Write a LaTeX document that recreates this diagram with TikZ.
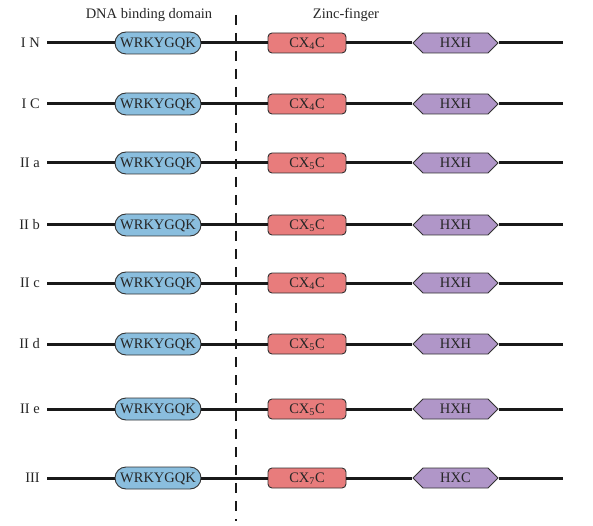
\documentclass[tikz,border=0pt]{standalone}
\usepackage{fontspec}
\setmainfont{Liberation Serif}
\usetikzlibrary{shapes.symbols}
\definecolor{wblue}{RGB}{138,190,222}
\definecolor{cpink}{RGB}{232,124,124}
\definecolor{hpurple}{RGB}{176,150,200}
\definecolor{edgegray}{RGB}{50,50,50}
\tikzset{
  txt/.style={font=\fontsize{14.5}{17}\selectfont, text=black!85},
  wrky/.style={txt, draw=edgegray, line width=0.9pt, fill=wblue, rounded corners=11pt,
    minimum width=86pt, minimum height=22pt, inner sep=0pt, text depth=0pt, text height=9.5pt},
  cxbox/.style={txt, draw=edgegray, line width=0.9pt, fill=cpink, rounded corners=4pt,
    minimum width=78pt, minimum height=20pt, inner sep=0pt, text depth=0pt, text height=9.5pt},
  hexbox/.style={txt, draw=edgegray, line width=0.9pt, fill=hpurple, signal, signal to=west and east,
    signal pointer angle=90, minimum width=85pt, minimum height=20pt, inner sep=0pt, text depth=0pt, text height=9.5pt},
  rowlabel/.style={txt, anchor=east, inner sep=0pt},
  bb/.style={line width=3pt, black!90},
  title/.style={txt},
}
\begin{document}
\begin{tikzpicture}[x=1pt,y=-1pt]
\useasboundingbox (0,0) rectangle (593,526);
\node[title] (t1) at (149,15) {DNA binding domain};
\node[title] (t2) at (346,15) {Zinc-finger};
\foreach \lab/\y/\n/\last [count=\i] in {I N/43/4/HXH, I C/104/4/HXH, II a/163/5/HXH, II b/225/5/HXH, II c/283/4/HXH, II d/344/5/HXH, II e/409/5/HXH, III/478/7/HXC}{
  \node[rowlabel] (l\i) at (40,\y) {\lab};
  \coordinate (s\i) at (47,\y);
  \coordinate (e\i) at (563,\y);
  \node[wrky] (w\i) at (158,\y) {WRKYGQK};
  \node[cxbox] (c\i) at (307,\y) {CX\textsubscript{\n}C};
  \node[hexbox] (h\i) at (455.5,\y) {\last};
  \draw[bb] (s\i) -- (w\i.west);
  \draw[bb] (w\i.east) -- (c\i.west);
  \draw[bb] (c\i.east) -- (h\i.west);
  \draw[bb] (h\i.east) -- (e\i);
}
\coordinate (dtop) at (236,15);
\coordinate (dbot) at (236,521);
\draw[line width=1.4pt, black!90, dash pattern=on 10pt off 8pt] (dtop) -- (dbot);
\end{tikzpicture}
\end{document}
